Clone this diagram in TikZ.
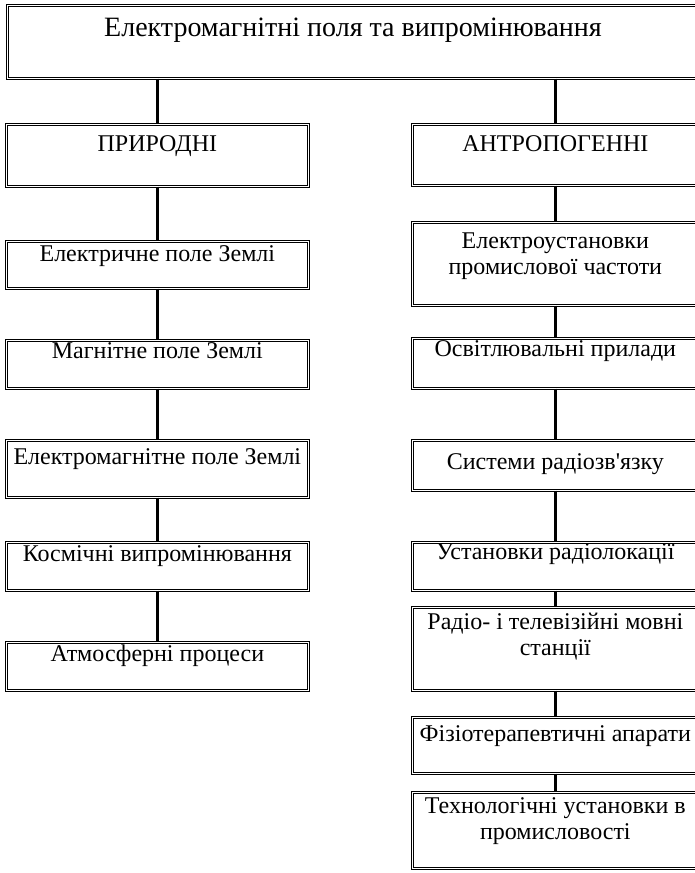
\documentclass[tikz,border=0pt]{standalone}
\usepackage{fontspec}
\setmainfont{Liberation Serif}[Ligatures=TeXOff]
\begin{document}
\begin{tikzpicture}[x=1pt,y=-1pt,
  box/.style={draw=black, double=white, double distance=1.6pt, line width=0.7pt, rectangle, inner sep=0pt, anchor=north west},
  lbl/.style={font=\fontsize{24}{26}\selectfont, align=center, inner sep=0pt, anchor=base},
  ttl/.style={font=\fontsize{28}{30}\selectfont, inner sep=0pt, anchor=base},
  conn/.style={line width=3pt, black}]
\useasboundingbox[fill=white] (0,0) rectangle (694,873);
% title
\node[box, minimum width=692pt, minimum height=73pt] (t) at (7,5) {};
\node[ttl] (tt) at (353,36) {Електромагнітні поля та випромінювання};
% left column
\node[box, minimum width=302pt, minimum height=62pt] (l0) at (6,124) {};
\node[lbl] at ([yshift=-27pt]l0.north) {ПРИРОДНІ};
\node[box, minimum width=302pt, minimum height=47pt] (l1) at (6,241) {};
\node[lbl] at ([yshift=-20pt]l1.north) {Електричне поле Землі};
\node[box, minimum width=302pt, minimum height=48pt] (l2) at (6,340) {};
\node[lbl] at ([yshift=-18pt]l2.north) {Магнітне поле Землі};
\node[box, minimum width=302pt, minimum height=57pt] (l3) at (6,440) {};
\node[lbl] at ([yshift=-24pt]l3.north) {Електромагнітне поле Землі};
\node[box, minimum width=302pt, minimum height=48pt] (l4) at (6,542) {};
\node[lbl] at ([yshift=-19pt]l4.north) {Космічні випромінювання};
\node[box, minimum width=302pt, minimum height=48pt] (l5) at (6,642) {};
\node[lbl] at ([yshift=-19pt]l5.north) {Атмосферні процеси};
% right column
\node[box, minimum width=286pt, minimum height=61pt] (r0) at (412,124) {};
\node[lbl] at ([yshift=-27pt]r0.north) {АНТРОПОГЕННІ};
\node[box, minimum width=286pt, minimum height=83pt] (r1) at (412,222) {};
\node[lbl, anchor=north] at ([yshift=-11pt]r1.north) {Електроустановки\\промислової частоти};
\node[box, minimum width=286pt, minimum height=50pt] (r2) at (412,338) {};
\node[lbl] at ([yshift=-18pt]r2.north) {Освітлювальні прилади};
\node[box, minimum width=286pt, minimum height=50pt] (r3) at (412,440) {};
\node[lbl] at ([yshift=-29pt]r3.north) {Системи радіозв'язку};
\node[box, minimum width=286pt, minimum height=48pt] (r4) at (412,542) {};
\node[lbl] at ([yshift=-17pt]r4.north) {Установки радіолокації};
\node[box, minimum width=286pt, minimum height=83pt] (r5) at (412,607) {};
\node[lbl, anchor=north] at ([yshift=-6pt]r5.north) {Радіо- і телевізійні мовні\\станції};
\node[box, minimum width=286pt, minimum height=56pt] (r6) at (412,717) {};
\node[lbl] at ([yshift=-24pt]r6.north) {Фізіотерапевтичні апарати};
\node[box, minimum width=286pt, minimum height=76pt] (r7) at (412,792) {};
\node[lbl, anchor=north] at ([yshift=-5pt]r7.north) {Технологічні установки в\\промисловості};
% connectors
\draw[conn] (t.south -| l0.north) -- (l0.north);
\draw[conn] (t.south -| r0.north) -- (r0.north);
\foreach \a/\b in {l0/l1,l1/l2,l2/l3,l3/l4,l4/l5,r0/r1,r1/r2,r2/r3,r3/r4,r4/r5,r5/r6,r6/r7}
  \draw[conn] (\a.south) -- (\b.north);
\end{tikzpicture}
\end{document}
